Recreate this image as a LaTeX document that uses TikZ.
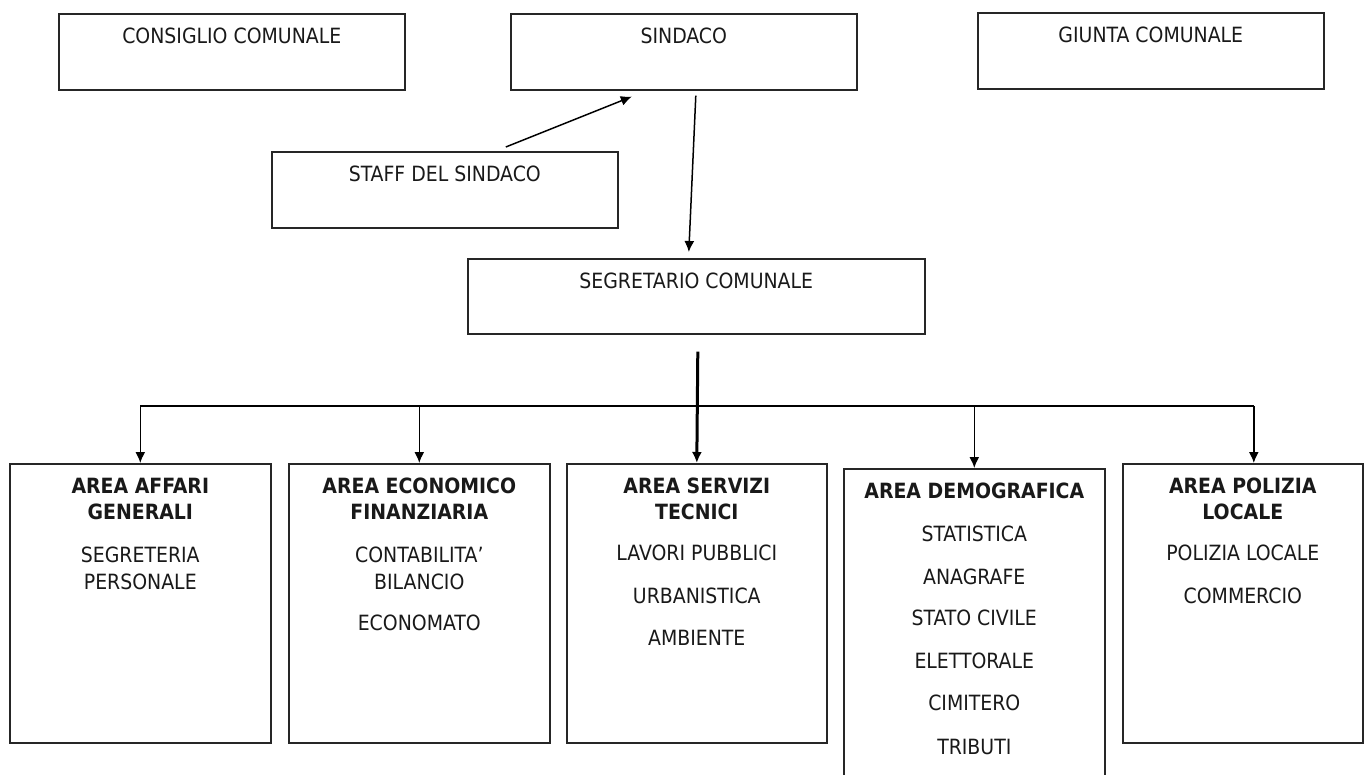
\documentclass[tikz,border=0pt]{standalone}
\usepackage{fontspec}
\setmainfont{DejaVu Sans Condensed}
\usetikzlibrary{arrows.meta}
\tikzset{
  cella/.style 2 args={draw=black!85, line width=1.6pt, inner sep=0pt, anchor=north west,
    font=\fontsize{21}{26}\selectfont, text=black!90,
    execute at begin node={\begin{minipage}[c][#2][t]{#1}\centering\vspace*{14pt}},
    execute at end node={\end{minipage}}},
  freccia/.style={line width=1.5pt, -{Latex[length=11pt,width=10pt]}}
}
\begin{document}
\begin{tikzpicture}[x=1pt,y=-1pt]
\useasboundingbox (0,0) rectangle (1372,774);
\clip (0,0) rectangle (1372,774);
% vertici
\node[cella={346pt}{76pt}] (cons) at (58,13) {CONSIGLIO COMUNALE};
\node[cella={346pt}{76pt}] (sind) at (510,13) {SINDACO};
\node[cella={346pt}{76pt}] (giun) at (977,12) {GIUNTA COMUNALE};
\node[cella={346pt}{76pt}] (staff) at (271,151) {STAFF DEL SINDACO};
\node[cella={457pt}{75pt}] (segr) at (467,258) {SEGRETARIO COMUNALE};
% aree
\node[cella={261pt}{279pt}] (a1) at (9,463) {{\bfseries AREA AFFARI\\GENERALI}\\[17pt]SEGRETERIA\\[1pt]PERSONALE};
\node[cella={261pt}{279pt}] (a2) at (288,463) {{\bfseries AREA ECONOMICO\\FINANZIARIA}\\[17pt]CONTABILITA’\\[1pt]BILANCIO\\[15pt]ECONOMATO};
\node[cella={260pt}{279pt}] (a3) at (566,463) {{\bfseries AREA SERVIZI\\TECNICI}\\[15pt]LAVORI PUBBLICI\\[17pt]URBANISTICA\\[16pt]AMBIENTE};
\node[cella={261pt}{330pt}] (a4) at (843,468) {{\bfseries AREA DEMOGRAFICA}\\[17pt]STATISTICA\\[17pt]ANAGRAFE\\[15pt]STATO CIVILE\\[17pt]ELETTORALE\\[16pt]CIMITERO\\[18pt]TRIBUTI};
\node[cella={240pt}{279pt}] (a5) at (1122,463) {{\bfseries AREA POLIZIA\\LOCALE}\\[15pt]POLIZIA LOCALE\\[17pt]COMMERCIO};
% collegamenti
\draw[freccia] ([xshift=61pt,yshift=4pt]staff.north)--([xshift=-52pt,yshift=-6pt]sind.south);
\draw[freccia] ([xshift=12pt,yshift=-5pt]sind.south)--([xshift=-7.5pt,yshift=6pt]segr.north);
\coordinate (bus) at (697,406);
\draw[freccia,line width=3pt] ([xshift=1.5pt,yshift=-17pt]segr.south)--(a3.north);
\draw[line width=1.5pt] (bus-|a1.north)--([xshift=11pt]bus-|a5.north);
\draw[freccia] (bus-|a1.north)--(a1.north);
\draw[freccia] (bus-|a2.north)--(a2.north);
\draw[freccia] (bus-|a4.north)--(a4.north);
\draw[freccia] ([xshift=11pt]bus-|a5.north)--([xshift=11pt]a5.north);
\end{tikzpicture}
\end{document}
